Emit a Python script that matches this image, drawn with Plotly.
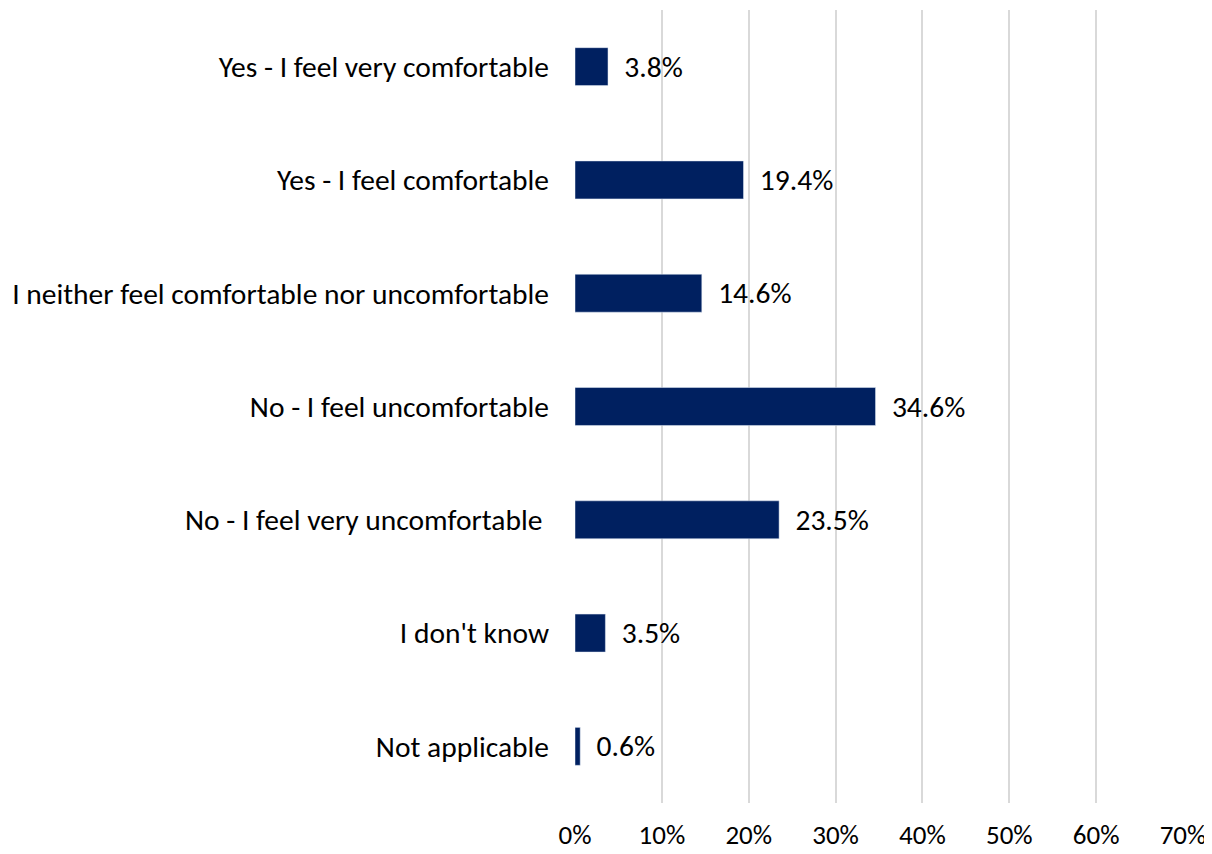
import plotly.graph_objects as go

categories = [
    "Yes - I feel very comfortable",
    "Yes - I feel comfortable",
    "I neither feel comfortable nor uncomfortable",
    "No - I feel uncomfortable",
    "No - I feel very uncomfortable\u00a0",
    "I don't know",
    "Not applicable",
]
values = [3.8, 19.4, 14.6, 34.6, 23.5, 3.5, 0.6]
tick_vals = [0, 10, 20, 30, 40, 50, 60, 70]
tick_text = ["0%", "10%", "20%", "30%", "40%", "50%", "60%", "70%"]

font_family = "Carlito, Calibri, Lato, sans-serif"
fs = 29.5
fs_x = 27

fig = go.Figure(
    go.Bar(
        y=categories,
        x=values,
        orientation="h",
        marker=dict(color="#002060"),
        text=["  " + f"{v:.1f}%" for v in values],
        textposition="outside",
        textfont=dict(size=fs, color="#000000", family=font_family),
        cliponaxis=False,
        width=0.335,
    )
)

fig.update_layout(
    width=1204,
    height=846,
    plot_bgcolor="white",
    paper_bgcolor="white",
    margin=dict(l=567, r=29, t=2, b=51, autoexpand=False),
    showlegend=False,
    font=dict(family=font_family, size=fs, color="#000000"),
    xaxis=dict(
        range=[0, 70],
        tickvals=tick_vals,
        ticktext=tick_text,
        showgrid=True,
        gridcolor="#D9D9D9",
        gridwidth=2,
        zeroline=False,
        showline=False,
        ticks="",
        ticklabelstandoff=13,
        tickfont=dict(size=fs_x),
        automargin=False,
    ),
    yaxis=dict(
        autorange="reversed",
        showgrid=False,
        showline=False,
        ticks="",
        ticklabelstandoff=25,
        tickfont=dict(size=fs),
        automargin=False,
    ),
)

fig.write_html("out.html")
